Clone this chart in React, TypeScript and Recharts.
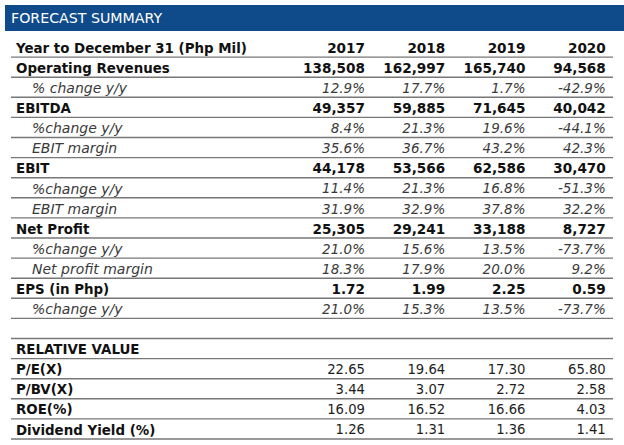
import { ScatterChart, Scatter, XAxis, YAxis, ReferenceLine } from 'recharts';

/* ------------------------------------------------------------------ */
/*  Forecast summary table drawn on a Recharts scatter grid            */
/* ------------------------------------------------------------------ */

const years = ['2017', '2018', '2019', '2020'];

const rowLabels = [
  'Year to December 31 (Php Mil)',
  'Operating Revenues',
  '% change y/y',
  'EBITDA',
  '%change y/y',
  'EBIT margin',
  'EBIT',
  '%change y/y',
  'EBIT margin',
  'Net Profit',
  '%change y/y',
  'Net profit margin',
  'EPS (in Php)',
  '%change y/y',
  '',
  'RELATIVE VALUE',
  'P/E(X)',
  'P/BV(X)',
  'ROE(%)',
  'Dividend Yield (%)',
];

// head / main = bold, sub = italic indented, ratio = bold label + plain numbers
const rowKinds = [
  'head', 'main', 'sub', 'main', 'sub', 'sub', 'main', 'sub', 'sub', 'main',
  'sub', 'sub', 'main', 'sub', 'blank', 'section', 'ratio', 'ratio', 'ratio', 'ratio',
];

const values2017 = ['2017', '138,508', '12.9%', '49,357', '8.4%', '35.6%', '44,178', '11.4%', '31.9%', '25,305', '21.0%', '18.3%', '1.72', '21.0%', '', '', '22.65', '3.44', '16.09', '1.26'];
const values2018 = ['2018', '162,997', '17.7%', '59,885', '21.3%', '36.7%', '53,566', '21.3%', '32.9%', '29,241', '15.6%', '17.9%', '1.99', '15.3%', '', '', '19.64', '3.07', '16.52', '1.31'];
const values2019 = ['2019', '165,740', '1.7%', '71,645', '19.6%', '43.2%', '62,586', '16.8%', '37.8%', '33,188', '13.5%', '20.0%', '2.25', '13.5%', '', '', '17.30', '2.72', '16.66', '1.36'];
const values2020 = ['2020', '94,568', '-42.9%', '40,042', '-44.1%', '42.3%', '30,470', '-51.3%', '32.2%', '8,727', '-73.7%', '9.2%', '0.59', '-73.7%', '', '', '65.80', '2.58', '4.03', '1.41'];

const columns = [values2017, values2018, values2019, values2020];

const FONT = '"DejaVu Sans", Verdana, sans-serif';

function cellStyle(kind: string) {
  if (kind === 'sub') return { fontStyle: 'italic', fontWeight: 400, fontSize: 13.5, fill: '#3a3a3a' };
  if (kind === 'ratio') return { fontStyle: 'normal', fontWeight: 400, fontSize: 13.2, fill: '#1e1e1e' };
  return { fontStyle: 'normal', fontWeight: 700, fontSize: 13.6, fill: '#111' };
}

function CellText(props: any) {
  const { cx, cy, payload } = props;
  if (cx == null || cy == null || !payload.text) return null;
  const s = cellStyle(payload.kind);
  return (
    <text x={cx} y={cy} dy="0.42em" textAnchor="end" fontFamily={FONT} {...s}>
      {payload.text}
    </text>
  );
}

function RowLabel(props: any) {
  const { y, payload } = props;
  const i = payload.value as number;
  const kind = rowKinds[i];
  const label = rowLabels[i];
  if (!label) return null;
  const isSub = kind === 'sub';
  return (
    <text
      x={isSub ? 32 : 16}
      y={y}
      dy="0.42em"
      textAnchor="start"
      fontFamily={FONT}
      fontSize={isSub ? 14 : 13.4}
      fontWeight={isSub ? 400 : 700}
      fontStyle={isSub ? 'italic' : 'normal'}
      fill={isSub ? '#3a3a3a' : '#111'}
    >
      {label}
    </text>
  );
}

export default function App() {
  const rowIdx = rowLabels.map((_, i) => i);
  const series = columns.map((col, c) =>
    col.map((text, r) => ({ col: c + 1, row: r, text, kind: rowKinds[r], year: years[c] }))
  );

  return (
    <div style={{ position: 'absolute', left: 0, top: 0, width: 624, height: 445, background: '#fff' }}>
      {/* title band */}
      <div
        style={{
          position: 'absolute',
          left: 5,
          top: 5,
          width: 619,
          height: 26,
          background: '#0f4a8a',
          color: '#fff',
          fontFamily: FONT,
          fontSize: 14.2,
          lineHeight: '27px',
          paddingLeft: 6,
          boxSizing: 'border-box',
        }}
      >
        FORECAST SUMMARY
      </div>

      <div style={{ position: 'absolute', left: 0, top: 0 }}>
        <ScatterChart width={624} height={445} margin={{ top: 37, right: 11, bottom: 6, left: 0 }}>
          <XAxis type="number" dataKey="col" domain={[-3.41, 4.09]} hide />
          <YAxis
            type="number"
            dataKey="row"
            domain={[-0.5, 19.5]}
            reversed
            ticks={rowIdx}
            interval={0}
            width={11}
            axisLine={false}
            tickLine={false}
            tick={<RowLabel />}
          />
          {rowIdx.map((i) => (
            <ReferenceLine key={`line-${i}`} y={i + 0.5} stroke="#777" strokeWidth={1.4} />
          ))}
          {series.map((data, c) => (
            <Scatter
              key={years[c]}
              name={years[c]}
              data={data}
              shape={<CellText />}
              isAnimationActive={false}
            />
          ))}
        </ScatterChart>
      </div>
    </div>
  );
}
